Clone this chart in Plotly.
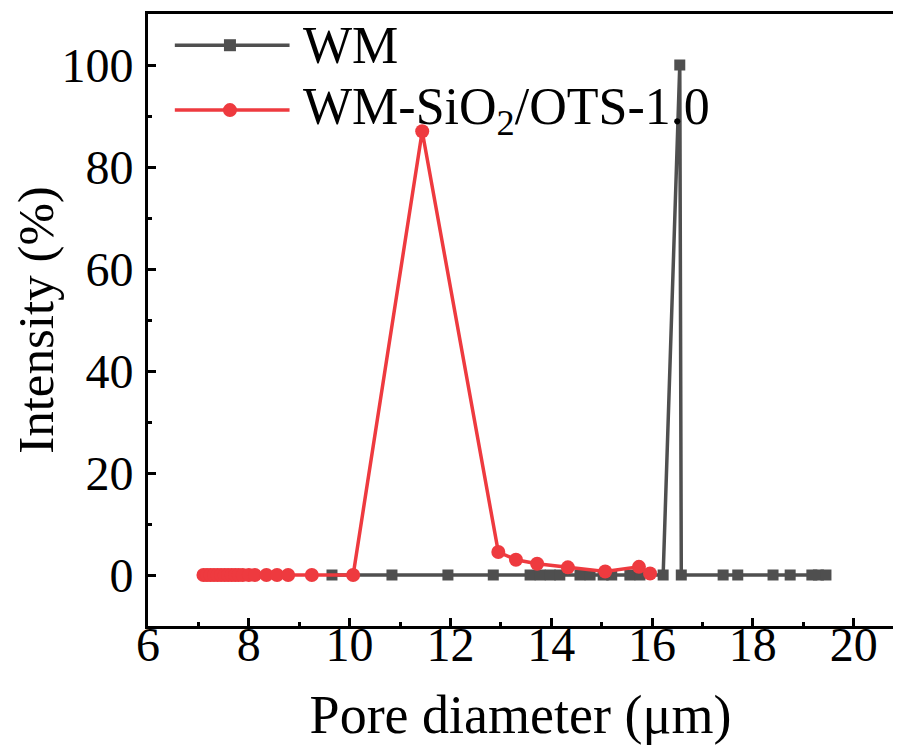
import plotly.graph_objects as go

# Data
wm_x = [9.65, 10.84, 11.95, 12.85, 13.58, 13.78, 13.98, 14.17, 14.57, 14.77, 15.03, 15.2,
        15.56, 15.76, 16.22, 16.55, 16.58, 17.41, 17.7, 18.4, 18.74, 19.17, 19.3, 19.45]
wm_y = [0, 0, 0, 0, 0, 0, 0, 0, 0, 0, 0, 0,
        0, 0, 0, 100, 0, 0, 0, 0, 0, 0, 0, 0]

ots_x = [7.1, 7.17, 7.24, 7.31, 7.38, 7.45, 7.52, 7.59, 7.66, 7.73, 7.8, 7.88, 8.0, 8.12,
         8.35, 8.56, 8.78, 9.25, 10.07, 11.44, 12.95, 13.3, 13.72, 14.33, 15.07, 15.74, 15.96]
ots_y = [0, 0, 0, 0, 0, 0, 0, 0, 0, 0, 0, 0, 0, 0,
         0, 0, 0, 0, 0, 87, 4.5, 3.0, 2.2, 1.5, 0.7, 1.6, 0.3]

series_names = ["WM", "WM-SiO<sub>2</sub>/OTS-1.0"]
x_ticks = [6, 8, 10, 12, 14, 16, 18, 20]
y_ticks = [0, 20, 40, 60, 80, 100]

GRAY = "#4f4f4f"
RED = "#ee3a3f"
FONT = "Liberation Serif"

fig = go.Figure()
fig.add_trace(go.Scatter(x=wm_x, y=wm_y, mode="lines+markers", name=series_names[0],
                         line=dict(color=GRAY, width=3.5),
                         marker=dict(symbol="square", size=11, color=GRAY),
                         showlegend=False))
fig.add_trace(go.Scatter(x=ots_x, y=ots_y, mode="lines+markers", name=series_names[1],
                         line=dict(color=RED, width=3.5),
                         marker=dict(symbol="circle", size=14, color=RED),
                         showlegend=False))

axis_common = dict(showline=True, linewidth=3, linecolor="black", mirror=True,
                   ticks="inside", tickwidth=3, ticklen=8, tickcolor="black",
                   showgrid=False, zeroline=False, automargin=False,
                   tickfont=dict(family=FONT, size=48, color="black"))

fig.update_xaxes(range=[6, 20.78], tickvals=x_ticks, ticklabelstandoff=-26,
                 minor=dict(ticks="inside", ticklen=4, tickwidth=3, dtick=1, tick0=6,
                            tickcolor="black"),
                 title=dict(text="Pore diameter (μm)", font=dict(family=FONT, size=54, color="black"),
                            standoff=26),
                 **axis_common)
fig.update_yaxes(range=[-10, 110], tickvals=y_ticks, ticklabelstandoff=2,
                 minor=dict(ticks="inside", ticklen=4, tickwidth=3, dtick=10, tick0=0,
                            tickcolor="black"),
                 title=dict(text="Intensity (%)", font=dict(family=FONT, size=51, color="black"),
                            standoff=14),
                 **axis_common)

# Manual legend (paper coordinates)
legend_rows = [(0.949, GRAY, "square"), (0.843, RED, "circle")]
for (yp, col, sym), name in zip(legend_rows, series_names):
    fig.add_shape(type="line", xref="paper", yref="paper", x0=0.036, x1=0.19, y0=yp, y1=yp,
                  line=dict(color=col, width=3.5))
    r = 6 if sym == "square" else 7
    fig.add_shape(type="rect" if sym == "square" else "circle", xref="paper", yref="paper",
                  xsizemode="pixel", ysizemode="pixel", xanchor=0.110, yanchor=yp,
                  x0=-r, x1=r, y0=-r, y1=r, fillcolor=col, line=dict(width=0))
    fig.add_annotation(xref="paper", yref="paper", x=0.206, y=yp, text=name, showarrow=False,
                       xanchor="left", yanchor="middle",
                       font=dict(family=FONT, size=52, color="black"))

# page body adds an 8px offset, so the figure is sized to fit the window
fig.update_layout(width=893, height=741, margin=dict(l=140, r=8, t=6, b=123),
                  plot_bgcolor="white", paper_bgcolor="white")

fig.write_html("out.html")
